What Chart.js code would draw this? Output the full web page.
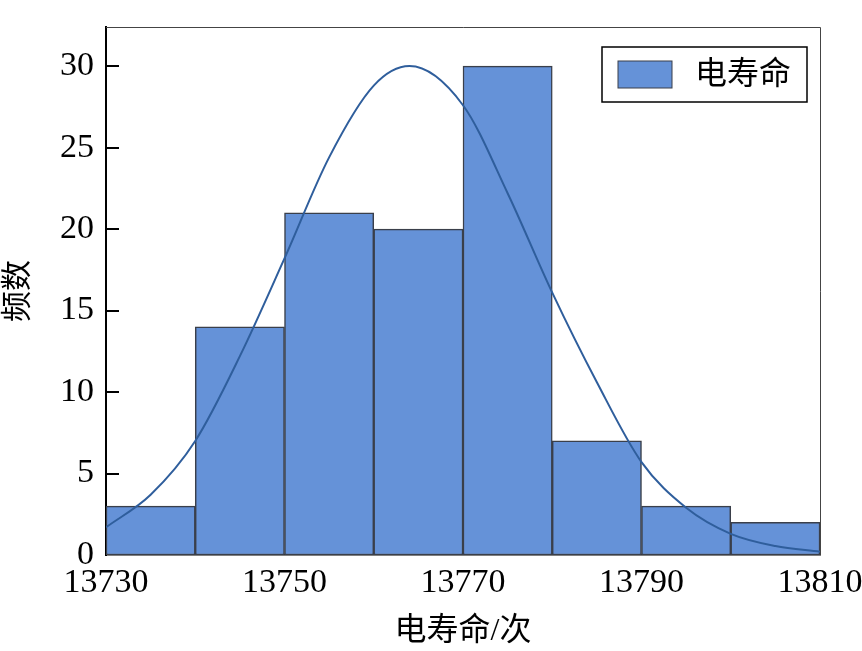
<!DOCTYPE html>
<html>
<head>
<meta charset="utf-8">
<script src="https://cdn.jsdelivr.net/npm/chart.js@4.4.0/dist/chart.umd.min.js"></script>
<style>
  html, body { margin: 0; padding: 0; background: #fff; }
  #wrap { width: 862px; height: 651px; }
</style>
</head>
<body>
<div id="wrap"><canvas id="grafico" width="862" height="651"></canvas></div>
<script>
// histogram bins (centre of each 10-wide bin) and counts
const binCenters = [13735, 13745, 13755, 13765, 13775, 13785, 13795, 13805];
const counts = [3, 14, 21, 20, 30, 7, 3, 2];

// fitted normal curve
const curveX = [13730, 13735, 13740, 13745, 13750, 13755, 13760, 13764, 13770, 13775, 13780, 13785, 13790, 13795, 13800, 13805, 13810];
const curveY = [1.7, 3.7, 7.0, 12.2, 18.2, 24.4, 28.8, 30.0, 27.6, 22.2, 16.1, 10.6, 5.7, 2.9, 1.3, 0.55, 0.2];

const xTicks = [13730, 13750, 13770, 13790, 13810];
const serieNome = '电寿命';
const eixoX = '电寿命/次';
const eixoY = '频数';

const fonte = "'Liberation Serif', 'Times New Roman', 'Noto Sans CJK SC', serif";

// inward ticks on the y axis, frame on top/right, legend box
const extras = {
  id: 'extras',
  afterDraw(chart) {
    const ctx = chart.ctx;
    const a = chart.chartArea;
    const y = chart.scales.y;
    ctx.save();
    // frame
    ctx.strokeStyle = '#444';
    ctx.lineWidth = 1;
    ctx.beginPath();
    ctx.moveTo(a.left, a.top + 0.5);
    ctx.lineTo(a.right + 0.5, a.top + 0.5);
    ctx.lineTo(a.right + 0.5, a.bottom);
    ctx.stroke();
    // ticks
    ctx.strokeStyle = '#000';
    ctx.lineWidth = 2;
    y.ticks.forEach(t => {
      if (Math.abs(t.value / 2.5 - Math.round(t.value / 2.5)) > 1e-6) return;
      if (t.value === 0) return;
      const py = Math.round(y.getPixelForValue(t.value));
      const len = (t.value % 5 === 0) ? 13 : 8;
      ctx.beginPath();
      ctx.moveTo(a.left, py);
      ctx.lineTo(a.left + len, py);
      ctx.stroke();
    });
    // legend
    const ds = chart.data.datasets[0];
    const lx = a.right - 218, ly = a.top + 20, lw = 205, lh = 55;
    ctx.fillStyle = '#fff';
    ctx.fillRect(lx, ly, lw, lh);
    ctx.strokeStyle = '#000';
    ctx.lineWidth = 1.5;
    ctx.strokeRect(lx, ly, lw, lh);
    ctx.fillStyle = ds.backgroundColor;
    ctx.fillRect(lx + 16, ly + 14, 54, 27);
    ctx.strokeStyle = '#3a3f4a';
    ctx.lineWidth = 1;
    ctx.strokeRect(lx + 16, ly + 14, 54, 27);
    ctx.fillStyle = '#000';
    ctx.font = "32px " + fonte;
    ctx.textBaseline = 'middle';
    ctx.fillText(ds.label, lx + 93, ly + lh / 2 + 1);
    ctx.restore();
  }
};

const ctx = document.getElementById('grafico').getContext('2d');

new Chart(ctx, {
  data: {
    datasets: [
      {
        type: 'bar',
        label: serieNome,
        data: binCenters.map((c, i) => ({ x: c, y: counts[i] })),
        backgroundColor: '#6592d8',
        borderColor: '#3a3f4a',
        borderWidth: 1.5,
        borderSkipped: false,
        barPercentage: 1,
        categoryPercentage: 1,
        order: 2
      },
      {
        type: 'line',
        label: 'fit',
        data: curveX.map((c, i) => ({ x: c, y: curveY[i] })),
        borderColor: '#2f5e9c',
        borderWidth: 2,
        pointRadius: 0,
        fill: false,
        cubicInterpolationMode: 'monotone',
        order: 1
      }
    ]
  },
  options: {
    responsive: false,
    animation: false,
    devicePixelRatio: 1,
    layout: { padding: { top: 27, right: 42, left: 0, bottom: 0 } },
    plugins: {
      legend: { display: false },
      tooltip: { enabled: false }
    },
    scales: {
      x: {
        type: 'linear',
        min: 13730,
        max: 13810,
        offset: false,
        afterBuildTicks: scale => { scale.ticks = xTicks.map(v => ({ value: v })); },
        afterFit: scale => {
          scale.height = 96;
          scale.paddingLeft = 0;
          scale.paddingRight = 0;
        },
        ticks: {
          color: '#000',
          padding: 8,
          maxRotation: 0,
          font: { family: fonte, size: 34 },
          callback: v => String(v)
        },
        grid: { display: false, drawTicks: false, offset: false },
        border: { display: true, color: '#000', width: 1.5 },
        title: {
          display: true,
          text: eixoX,
          color: '#000',
          font: { family: fonte, size: 32 },
          padding: { top: 2, bottom: 0 }
        }
      },
      y: {
        min: 0,
        max: 32.4,
        afterFit: scale => {
          scale.width = 106;
          scale.paddingTop = 0;
          scale.paddingBottom = 0;
        },
        ticks: {
          stepSize: 2.5,
          color: '#000',
          padding: 12,
          font: { family: fonte, size: 34 },
          callback: v => (v % 5 === 0 ? v : '')
        },
        grid: { display: false, drawTicks: false },
        border: { display: true, color: '#000', width: 2 },
        title: {
          display: true,
          text: eixoY,
          color: '#000',
          font: { family: fonte, size: 31 },
          padding: { top: 0, bottom: 0 }
        }
      }
    }
  },
  plugins: [extras]
});
</script>
</body>
</html>
